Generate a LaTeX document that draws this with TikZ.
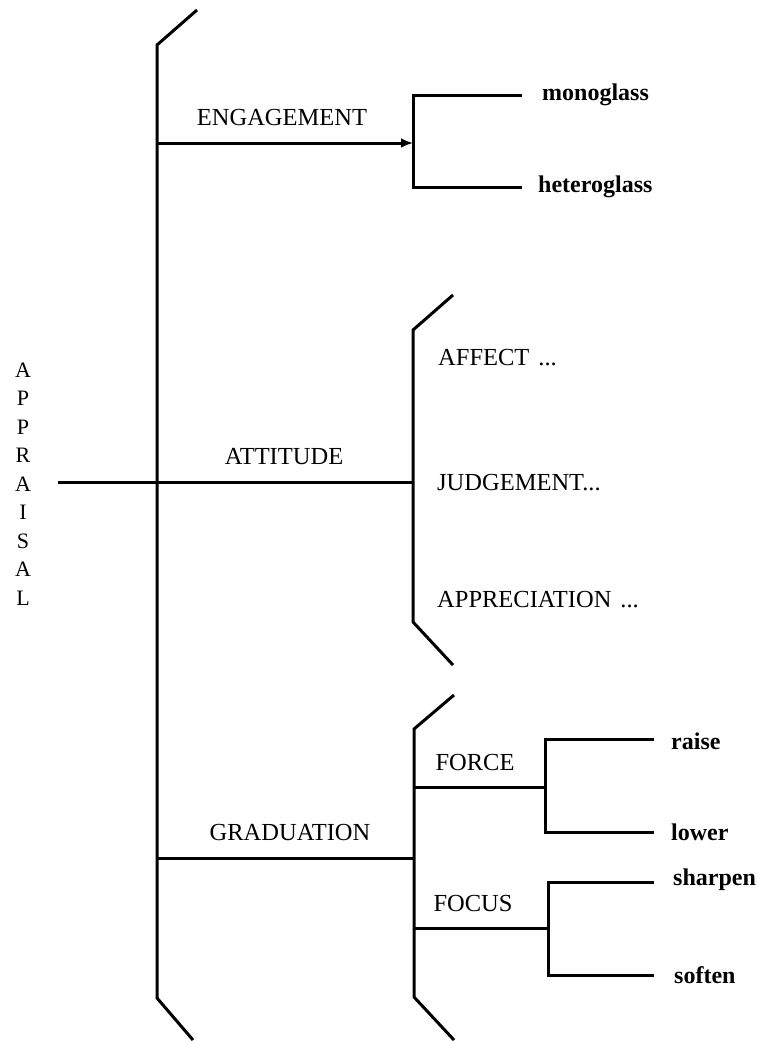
\documentclass[tikz,border=0pt]{standalone}
\usepackage{fontspec}
\setmainfont{Liberation Serif}
\usetikzlibrary{arrows.meta}
\begin{document}
\begin{tikzpicture}[x=1pt,y=-1pt,
  bar/.style={line width=3pt, line join=miter, line cap=butt},
  caplabel/.style={font=\fontsize{24.5}{28}\selectfont, inner sep=0pt},
  sublabel/.style={font=\fontsize{24.5}{28}\selectfont, inner sep=0pt, anchor=west},
  leaf/.style={font=\bfseries\fontsize{24}{28}\selectfont, inner sep=0pt, anchor=west}]
\useasboundingbox[fill=white] (0,0) rectangle (756,1041);

% root label
\node[inner sep=0pt, align=center, font=\fontsize{22}{28.5}\selectfont] (appraisal) at (23,484)
  {A\\P\\P\\R\\A\\I\\S\\A\\L};

% main bracket
\coordinate (m1) at (197,10);
\coordinate (m2) at (157,45);
\coordinate (m3) at (157,998);
\coordinate (m4) at (193,1040);
\draw[bar] (m1) -- (m2) -- (m3) -- (m4);

% ENGAGEMENT
\coordinate (e0) at (157,143);
\coordinate (e1) at (413,143);
\node[caplabel] (engagement) at (282,118) {ENGAGEMENT};
\draw[bar, -{Latex[length=12pt,width=10pt]}] (e0) -- (e1);
\coordinate (eb1) at (413,95);
\coordinate (eb2) at (413,187);
\coordinate (em) at (522,95);
\coordinate (eh) at (522,187);
\draw[bar] (em) -- (eb1) -- (eb2) -- (eh);
\node[leaf] (mono) at (542,95) {monoglass};
\node[leaf] (hetero) at (538,187) {heteroglass};

% ATTITUDE
\coordinate (a0) at (58,482);
\coordinate (a1) at (413,482);
\draw[bar] (a0) -- (a1);
\node[caplabel] (attitude) at (284,457) {ATTITUDE};
\coordinate (ab1) at (453,295);
\coordinate (ab2) at (413,330);
\coordinate (ab3) at (413,622);
\coordinate (ab4) at (453,665);
\draw[bar] (ab1) -- (ab2) -- (ab3) -- (ab4);
\node[sublabel] (affect) at (438,358) {AFFECT\hspace{9pt}...};
\node[sublabel] (judgement) at (437,483) {JUDGEMENT...};
\node[sublabel] (appreciation) at (437,600) {APPRECIATION\hspace{9pt}...};

% GRADUATION
\coordinate (g0) at (157,858);
\coordinate (g1) at (414,858);
\draw[bar] (g0) -- (g1);
\node[caplabel] (graduation) at (290,832) {GRADUATION};
\coordinate (gb1) at (454,695);
\coordinate (gb2) at (414,729);
\coordinate (gb3) at (414,997);
\coordinate (gb4) at (454,1040);
\draw[bar] (gb1) -- (gb2) -- (gb3) -- (gb4);

% FORCE
\coordinate (f0) at (414,787);
\coordinate (f1) at (545,787);
\draw[bar] (f0) -- (f1);
\node[caplabel] (force) at (475,762) {FORCE};
\coordinate (fb1) at (545,739);
\coordinate (fb2) at (545,832);
\coordinate (fr) at (654,739);
\coordinate (fl) at (654,832);
\draw[bar] (fr) -- (fb1) -- (fb2) -- (fl);
\node[leaf] (raise) at (671,741) {raise};
\node[leaf] (lower) at (671,832) {lower};

% FOCUS
\coordinate (c0) at (414,928);
\coordinate (c1) at (548,928);
\draw[bar] (c0) -- (c1);
\node[caplabel] (focus) at (473,903) {FOCUS};
\coordinate (cb1) at (548,882);
\coordinate (cb2) at (548,975);
\coordinate (cs) at (654,882);
\coordinate (cf) at (654,975);
\draw[bar] (cs) -- (cb1) -- (cb2) -- (cf);
\node[leaf] (sharpen) at (673,880) {sharpen};
\node[leaf] (soften) at (674,975) {soften};
\end{tikzpicture}
\end{document}
